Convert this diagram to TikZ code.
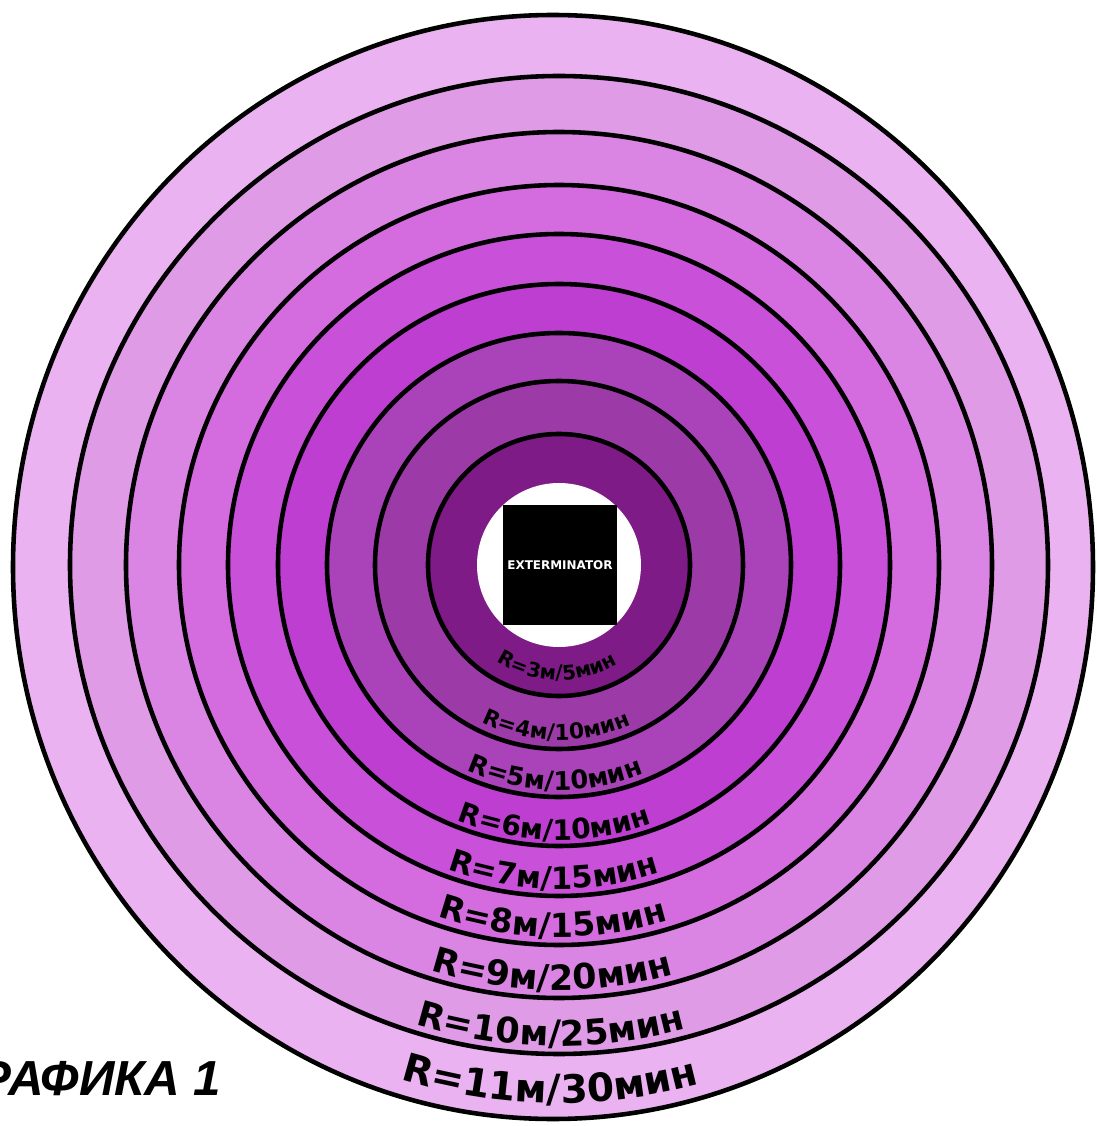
\documentclass[tikz,border=0pt]{standalone}
\usepackage{fontspec}
\setmainfont{DejaVu Sans}
\newfontfamily\captionfont{Liberation Sans}
\usetikzlibrary{calc,decorations.text}
\definecolor{ringA}{RGB}{126, 27, 135}
\definecolor{ringB}{RGB}{156, 58, 168}
\definecolor{ringC}{RGB}{170, 66, 186}
\definecolor{ringD}{RGB}{189, 62, 208}
\definecolor{ringE}{RGB}{201, 80, 216}
\definecolor{ringF}{RGB}{212, 108, 223}
\definecolor{ringG}{RGB}{218, 132, 227}
\definecolor{ringH}{RGB}{223, 155, 230}
\definecolor{ringI}{RGB}{234, 178, 240}

% label written along the lower part of a ring: radius, font size, text
\newcommand{\ringtext}[3]{%
  \path[decorate, decoration={text along path, text align=center,
      text={|\fontsize{#2}{#2}\selectfont\bfseries|#3}}]
    ($(ctr)+(229:#1)$) arc[start angle=229, end angle=309, radius=#1];}

\begin{document}
\begin{tikzpicture}[
    x=0.01cm, y=0.01cm,
    ring/.style={draw=black, line width=1.3pt},
    box/.style={rectangle, fill=black, text=white, minimum width=1.14cm, minimum height=1.2cm, inner sep=0pt, font=\bfseries\fontsize{3.4}{4}\selectfont},
    caption/.style={anchor=base east, inner sep=0pt, font=\captionfont\bfseries\itshape\fontsize{14}{16}\selectfont}
]
\clip (0,0) rectangle (1097,1126);
\coordinate (ctr) at (559,561);

% rings, outer one first
\filldraw[ring, fill=ringI] (553,559) ellipse[x radius=540, y radius=552];
\foreach \r/\c in {489/ringH, 433/ringG, 380/ringF, 331/ringE, 281/ringD, 232/ringC, 184/ringB, 131/ringA}
  \filldraw[ring, fill=\c] (ctr) circle[radius=\r];
\fill[white] (ctr) circle[radius=82];

% centre
\node[box] (exterminator) at (560,561) {EXTERMINATOR};

% ring labels
\ringtext{115}{5.7}{R=3м/5мин}
\ringtext{175}{6.2}{R=4м/10мин}
\ringtext{225}{7.3}{R=5м/10мин}
\ringtext{275}{8}{R=6м/10мин}
\ringtext{324}{8.7}{R=7м/15мин}
\ringtext{372}{9.4}{R=8м/15мин}
\ringtext{425}{9.9}{R=9м/20мин}
\ringtext{481}{10}{R=10м/25мин}
\ringtext{538}{11.1}{R=11м/30мин}

\node[caption] (grafika) at (222,31) {ГРАФИКА 1};
\end{tikzpicture}
\end{document}
